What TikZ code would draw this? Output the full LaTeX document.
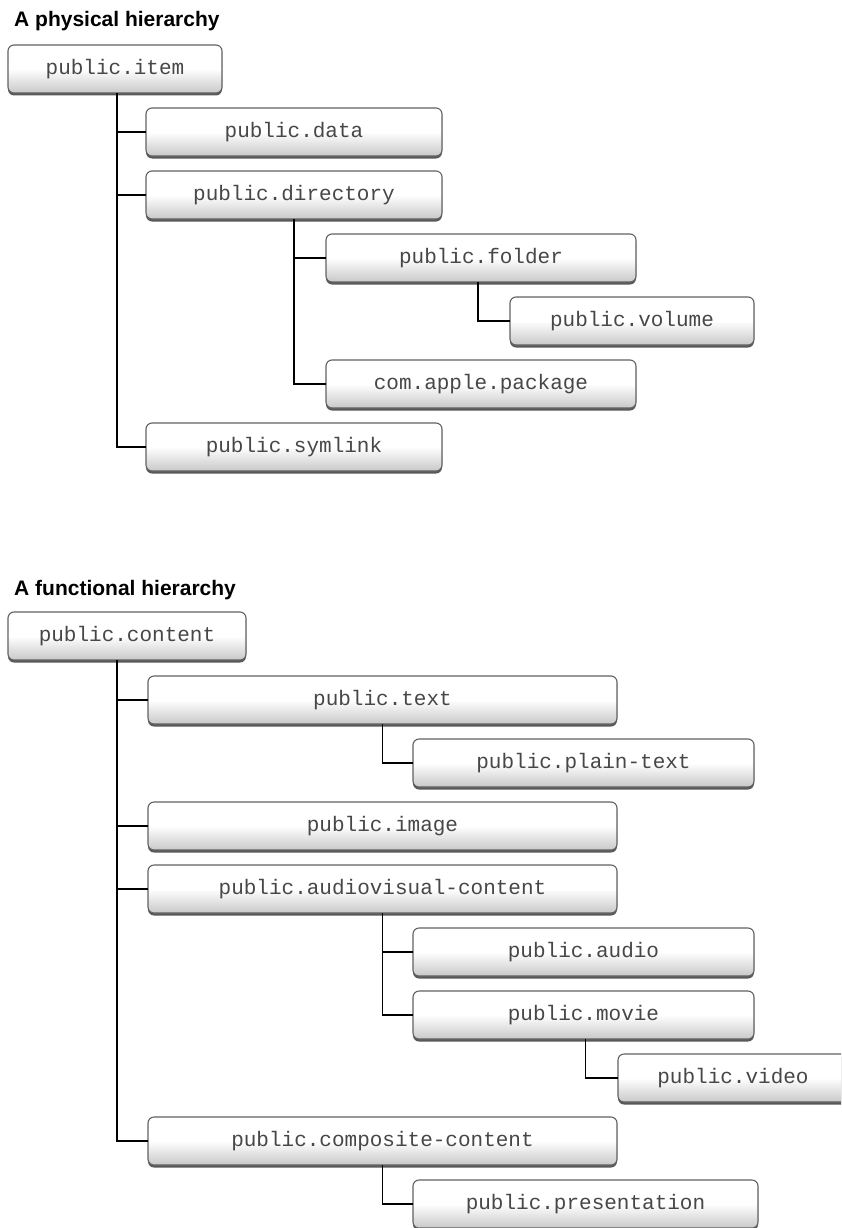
\documentclass[tikz,border=0pt]{standalone}
\usepackage{fontspec}
\newfontfamily\titlefont{Liberation Sans}
\newfontfamily\boxmono{Liberation Mono}
\usetikzlibrary{shadows}
\newcommand\boxfont{\boxmono\fontsize{21}{25}\selectfont}
\pgfdeclareverticalshading{boxshade}{100bp}{color(0bp)=(black!42); color(22bp)=(black!24); color(50bp)=(white); color(88bp)=(white); color(100bp)=(black!12)}
\tikzset{
  ubox/.style={draw=black!62, line width=1.1pt, rounded corners=6pt, shade, shading=boxshade,
    minimum height=48pt, inner sep=0pt, outer sep=0pt, anchor=north west, text=black!72, font=\boxfont,
    drop shadow={shadow xshift=0pt, shadow yshift=-2.5pt, fill=black!65, opacity=1}},
  conn/.style={line width=1.6pt, black},
  ttl/.style={anchor=base west, inner sep=0pt, font=\titlefont\bfseries\fontsize{21}{24}\selectfont}
}
\begin{document}
\begin{tikzpicture}[x=1pt, y=-1pt]
\fill[white] (0,0) rectangle (841,1228);
\clip (0,0) rectangle (841,1228);
% titles
\node[ttl] (t1) at (14,27) {A physical hierarchy};
\node[ttl] (t2) at (14,595) {A functional hierarchy};
% physical hierarchy
\node[ubox, minimum width=214pt] (item) at (8,45) {public.item};
\node[ubox, minimum width=296pt] (data) at (146,108) {public.data};
\node[ubox, minimum width=296pt] (directory) at (146,171) {public.directory};
\node[ubox, minimum width=310pt] (folder) at (326,234) {public.folder};
\node[ubox, minimum width=244pt] (volume) at (510,297) {public.volume};
\node[ubox, minimum width=310pt] (package) at (326,360) {com.apple.package};
\node[ubox, minimum width=296pt] (symlink) at (146,423) {public.symlink};
% functional hierarchy
\node[ubox, minimum width=238pt] (content) at (8,612) {public.content};
\node[ubox, minimum width=469pt] (text) at (148,676) {public.text};
\node[ubox, minimum width=341pt] (plaintext) at (413,739) {public.plain-text};
\node[ubox, minimum width=469pt] (image) at (148,802) {public.image};
\node[ubox, minimum width=469pt] (av) at (148,865) {public.audiovisual-content};
\node[ubox, minimum width=341pt] (audio) at (413,928) {public.audio};
\node[ubox, minimum width=341pt] (movie) at (413,991) {public.movie};
\node[ubox, minimum width=230pt] (video) at (618,1054) {public.video};
\node[ubox, minimum width=469pt] (composite) at (148,1117) {public.composite-content};
\node[ubox, minimum width=345pt] (presentation) at (413,1180) {public.presentation};
% connectors
\draw[conn] ([xshift=2pt]item.south) |- (data.west);
\draw[conn] ([xshift=2pt]item.south) |- (directory.west);
\draw[conn] ([xshift=2pt]item.south) |- (symlink.west);
\draw[conn] (directory.south) |- (folder.west);
\draw[conn] (directory.south) |- (package.west);
\draw[conn] ([xshift=-3pt]folder.south) |- (volume.west);
\draw[conn] ([xshift=-10pt]content.south) |- (text.west);
\draw[conn] ([xshift=-10pt]content.south) |- (image.west);
\draw[conn] ([xshift=-10pt]content.south) |- (av.west);
\draw[conn] ([xshift=-10pt]content.south) |- (composite.west);
\draw[conn] (text.south) |- (plaintext.west);
\draw[conn] (av.south) |- (audio.west);
\draw[conn] (av.south) |- (movie.west);
\draw[conn] ([xshift=2pt]movie.south) |- (video.west);
\draw[conn] (composite.south) |- (presentation.west);
\end{tikzpicture}
\end{document}
